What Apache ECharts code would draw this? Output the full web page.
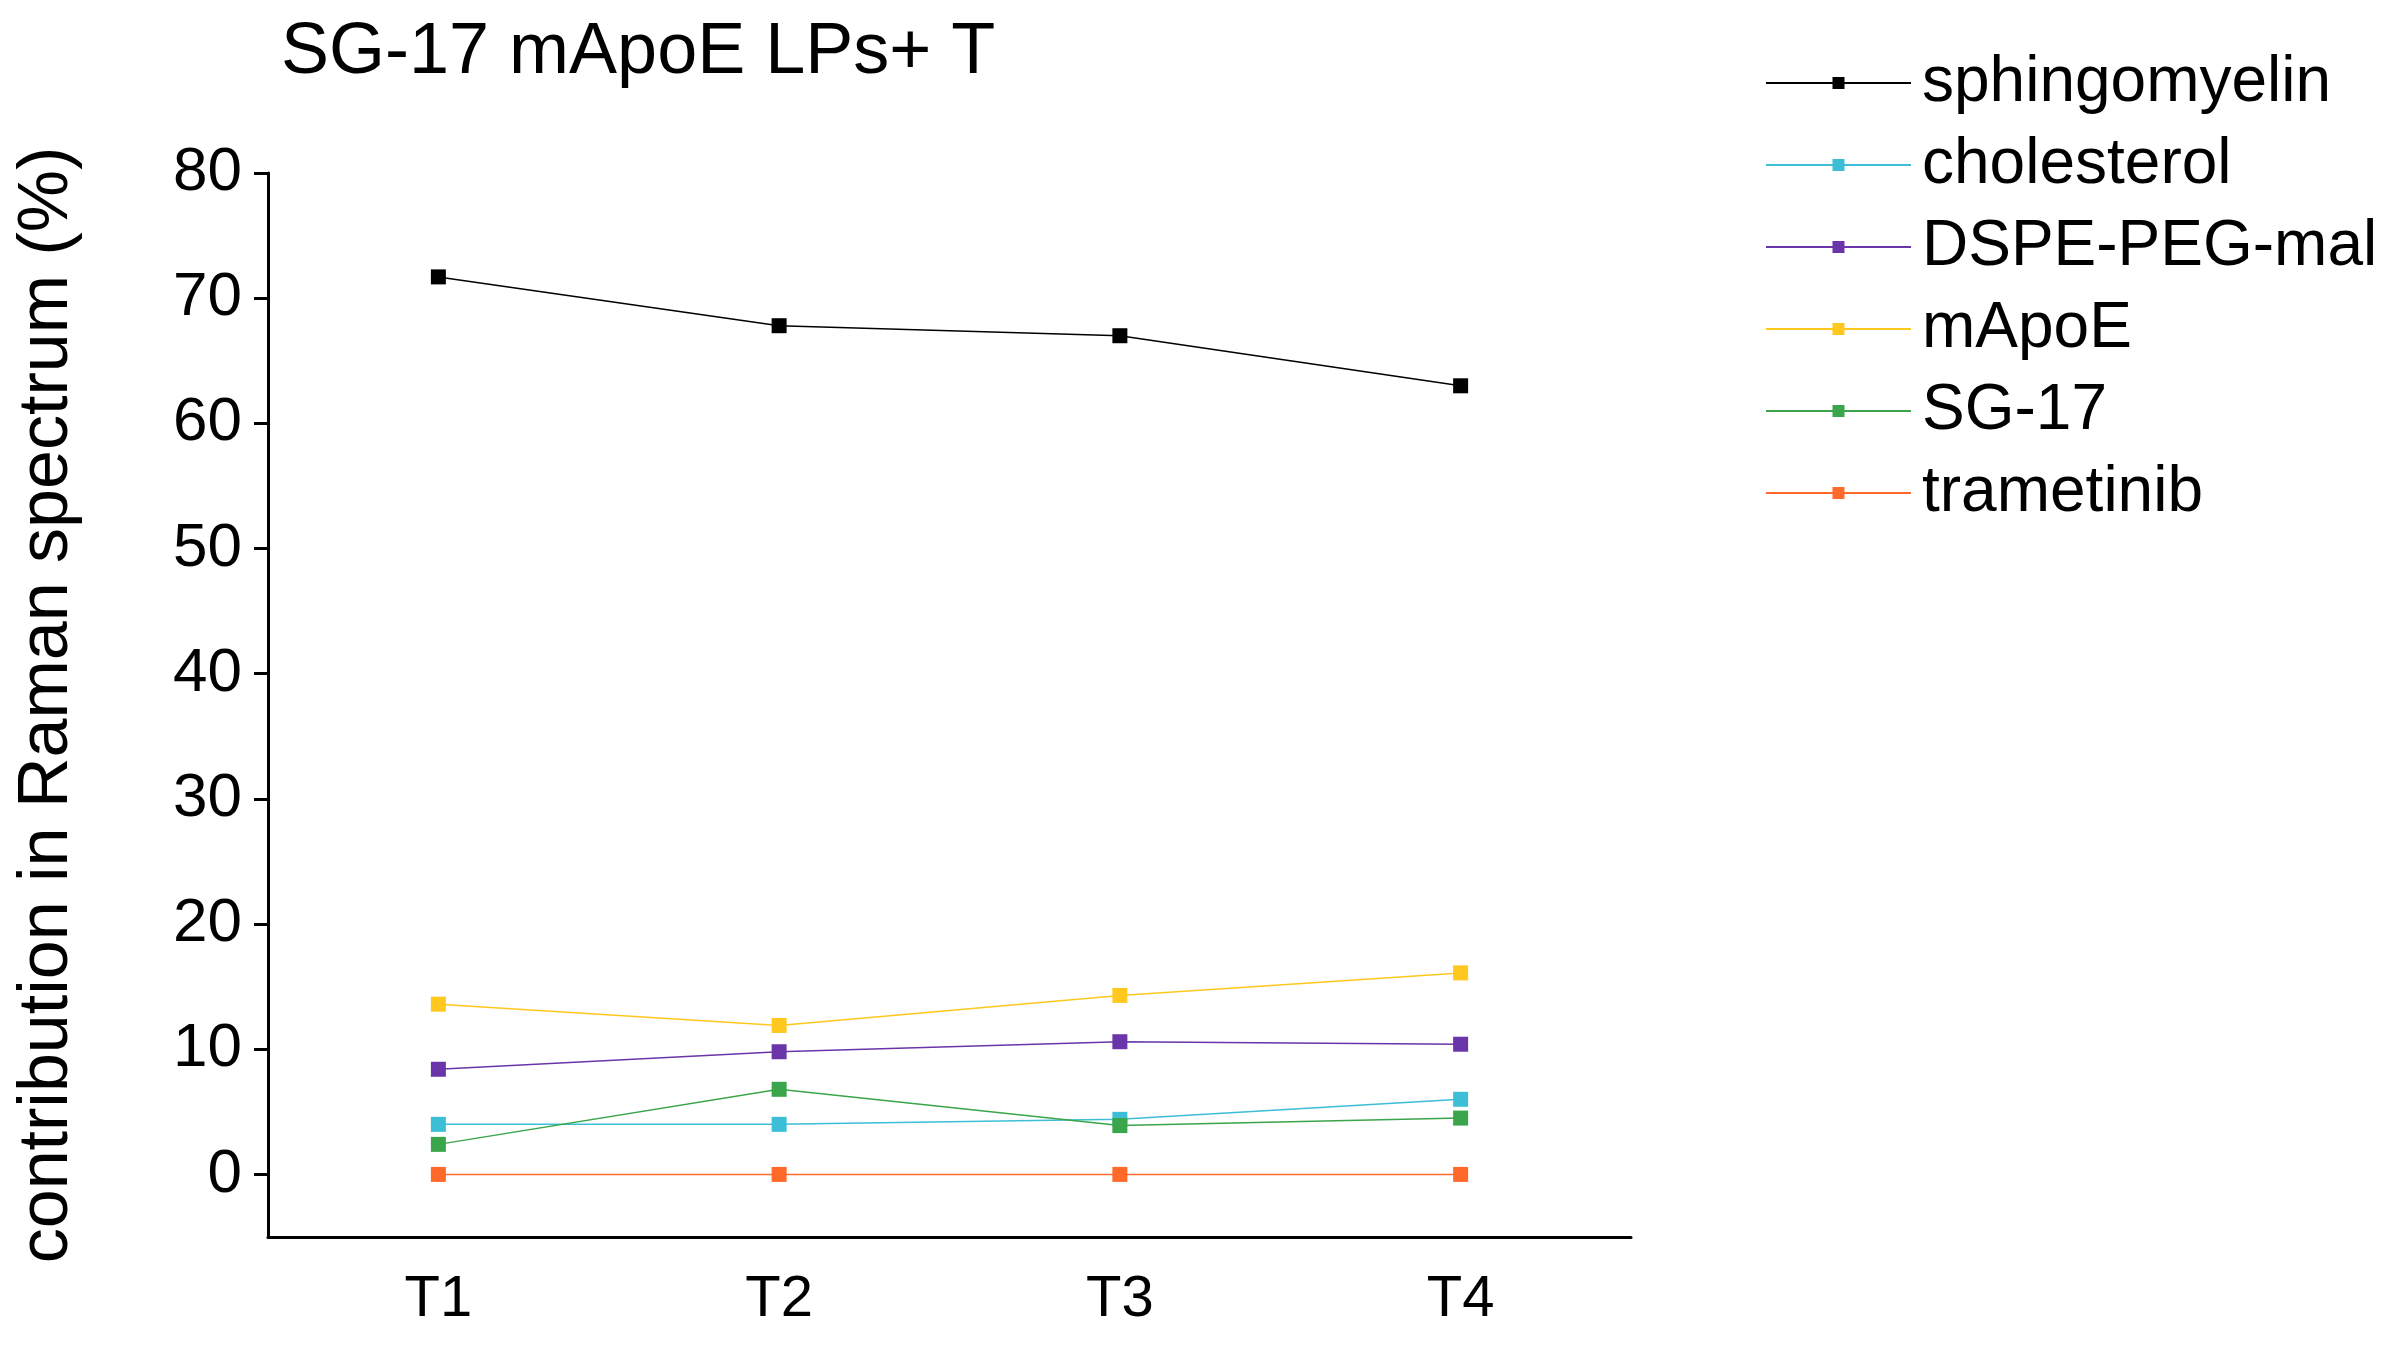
<!DOCTYPE html>
<html>
<head>
<meta charset="utf-8">
<script src="https://cdn.jsdelivr.net/npm/echarts@6/dist/echarts.min.js"></script>
<style>html,body{margin:0;padding:0;background:#fff}#c{width:2401px;height:1361px}</style>
</head>
<body>
<div id="c"></div>
<script>
// data
var categories = ['T1', 'T2', 'T3', 'T4']
var seriesNames = ['sphingomyelin', 'cholesterol', 'DSPE-PEG-mal', 'mApoE', 'SG-17', 'trametinib']
var sphingomyelin = [71.7, 67.8, 67.0, 63.0]
var cholesterol = [4.0, 4.0, 4.4, 6.0]
var dspe = [8.4, 9.8, 10.6, 10.4]
var mApoE = [13.6, 11.9, 14.3, 16.1]
var sg17 = [2.4, 6.8, 3.9, 4.5]
var trametinib = [0, 0, 0, 0]
var yTicks = [0, 10, 20, 30, 40, 50, 60, 70, 80]

var colors = ['#000000', '#3cbfd6', '#6a35a8', '#ffc81e', '#3aa54a', '#ff6a2a']
var values = [sphingomyelin, cholesterol, dspe, mApoE, sg17, trametinib]
var font = '"Liberation Sans", Arial, sans-serif'

var chart = echarts.init(document.getElementById('c'))
chart.setOption({
  animation: false,
  textStyle: { fontFamily: font },
  title: {
    text: 'SG-17 mApoE LPs+ T',
    left: 276, top: 12,
    textStyle: { fontSize: 72, fontWeight: 'normal', color: '#000', fontFamily: font }
  },
  legend: {
    orient: 'vertical',
    left: 1760, top: 46,
    itemWidth: 145, itemHeight: 15,
    itemGap: 18,
    textStyle: { fontSize: 64, color: '#000', fontFamily: font, padding: [0, 0, 0, 6] },
    data: seriesNames
  },
  grid: { left: 268, right: 770, top: 173, bottom: 124 },
  xAxis: {
    type: 'category',
    data: categories,
    boundaryGap: true,
    axisLine: { onZero: false, lineStyle: { color: '#000', width: 3 } },
    axisTick: { alignWithLabel: true, length: 14, lineStyle: { width: 3 } },
    axisLabel: { fontSize: 58, color: '#000', margin: 34 }
  },
  yAxis: {
    type: 'value',
    min: -5, max: 80,
    name: 'contribution in Raman spectrum (%)',
    nameLocation: 'middle',
    nameGap: 185,
    nameTextStyle: { fontSize: 70, color: '#000' },
    splitLine: { show: false },
    axisLine: { show: true, lineStyle: { color: '#000', width: 3 } },
    axisTick: { show: true, length: 14, lineStyle: { width: 3 }, customValues: yTicks },
    axisLabel: { fontSize: 62, color: '#000', margin: 26, customValues: yTicks }
  },
  series: seriesNames.map(function (n, i) {
    return {
      name: n,
      type: 'line',
      data: values[i],
      symbol: 'rect',
      symbolSize: 15,
      color: colors[i],
      lineStyle: { width: 1.5, color: colors[i] },
      itemStyle: { color: colors[i] }
    }
  })
})
</script>
</body>
</html>
